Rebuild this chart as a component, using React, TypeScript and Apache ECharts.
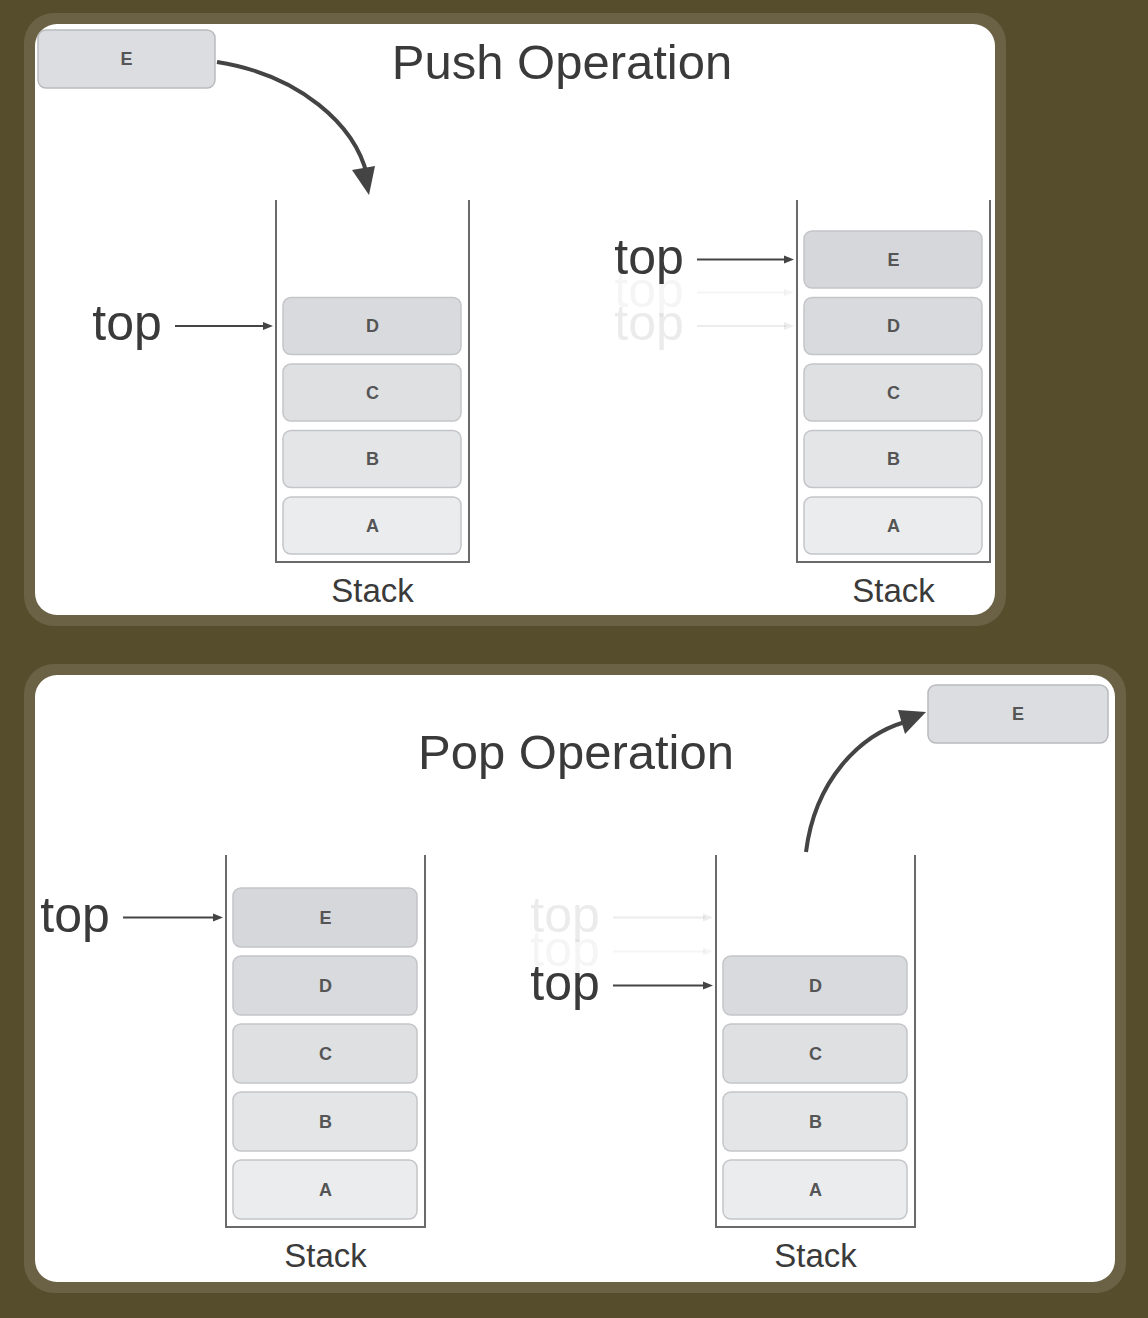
import React, { useEffect, useRef } from 'react';
import * as echarts from 'echarts';

const pushBefore = ['A', 'B', 'C', 'D'];
const pushAfter = ['A', 'B', 'C', 'D', 'E'];
const popBefore = ['A', 'B', 'C', 'D', 'E'];
const popAfter = ['A', 'B', 'C', 'D'];
const boxFills = ['#ebeced', '#e4e5e7', '#dfe0e2', '#d9dadd', '#d6d7da'];

const FONT = '"Liberation Sans", Arial, sans-serif';
const INK = '#3a3a3a';

const text = (x: number, y: number, t: string, size: number, color = INK, opacity = 1, weight = 'normal'): any => ({
  type: 'text',
  x,
  y,
  style: {
    text: t,
    fill: color,
    opacity,
    font: `${weight} ${size}px ${FONT}`,
    align: 'center',
    verticalAlign: 'middle',
  },
});

const arrow = (x1: number, x2: number, y: number, opacity = 1): any[] => [
  { type: 'line', shape: { x1, y1: y, x2: x2 - 8, y2: y }, style: { stroke: '#444', lineWidth: 2, opacity } },
  {
    type: 'polygon',
    shape: { points: [[x2 - 10, y - 4], [x2, y], [x2 - 10, y + 4]] },
    style: { fill: '#444', opacity },
  },
];

// walls, boxes, label and "top" pointer for one stack
const stack = (
  items: string[],
  left: number,
  right: number,
  top: number,
  bottom: number,
  boxH: number,
  pitch: number,
  topLabel: { x: number; ghosts: number[] },
): any[] => {
  const els: any[] = [];
  els.push({
    type: 'polyline',
    shape: { points: [[left, top], [left, bottom], [right, bottom], [right, top]] },
    style: { stroke: '#6a6a6a', lineWidth: 2, fill: null },
  });
  items.forEach((it, i) => {
    const y = bottom - 8 - boxH - i * pitch;
    els.push({
      type: 'rect',
      shape: { x: left + 7, y, width: right - left - 15, height: boxH, r: 8 },
      style: { fill: boxFills[i], stroke: '#c4c5c8', lineWidth: 1.5 },
    });
    els.push(text((left + right) / 2, y + boxH / 2, it, 18, '#555', 1, 'bold'));
  });
  els.push(text((left + right) / 2, bottom + 28, 'Stack', 33, INK));
  const yTop = bottom - 8 - boxH - (items.length - 1) * pitch + boxH / 2;
  topLabel.ghosts.forEach((dy, k) => {
    const op = k === 0 ? 0.1 : 0.05;
    els.push(text(topLabel.x, yTop + dy - 3, 'top', 50, INK, op));
    els.push(...arrow(topLabel.x + 48, left - 3, yTop + dy, op));
  });
  els.push(text(topLabel.x, yTop - 3, 'top', 50, INK));
  els.push(...arrow(topLabel.x + 48, left - 3, yTop));
  return els;
};

const panel = (x: number, y: number, w: number, h: number): any[] => [
  { type: 'rect', shape: { x: x - 11, y: y - 11, width: w + 22, height: h + 22, r: 30 }, style: { fill: '#6b6245' } },
  { type: 'rect', shape: { x, y, width: w, height: h, r: 22 }, style: { fill: '#ffffff' } },
];

const eBox = (x: number, y: number, w: number, h: number): any[] => [
  { type: 'rect', shape: { x, y, width: w, height: h, r: 8 }, style: { fill: '#dcdde0', stroke: '#b9babd', lineWidth: 1.5 } },
  text(x + w / 2, y + h / 2, 'E', 18, '#555', 1, 'bold'),
];

const App: React.FC = () => {
  const chartRef = useRef<HTMLDivElement | null>(null);

  useEffect(() => {
    if (!chartRef.current) return;
    const chart = echarts.init(chartRef.current, undefined, { renderer: 'svg' });

    const elements: any[] = [
      ...panel(35, 24, 960, 591),
      ...panel(35, 675, 1080, 607),
      // push
      text(562, 62, 'Push Operation', 49, INK),
      ...eBox(38, 30, 177, 58),
      {
        type: 'bezierCurve',
        shape: { x1: 217, y1: 62, cpx1: 300, cpy1: 75, cpx2: 355, cpy2: 125, x2: 367, y2: 175 },
        style: { stroke: '#444', lineWidth: 4, fill: null },
      },
      { type: 'polygon', shape: { points: [[352, 170], [375, 166], [369, 195]] }, style: { fill: '#444' } },
      ...stack(pushBefore, 276, 469, 200, 562, 57, 66.5, { x: 127, ghosts: [] }),
      ...stack(pushAfter, 797, 990, 200, 562, 57, 66.5, { x: 649, ghosts: [66.5, 33] }),
      // pop
      text(576, 752, 'Pop Operation', 49, INK),
      ...eBox(928, 685, 180, 58),
      {
        type: 'bezierCurve',
        shape: { x1: 806, y1: 852, cpx1: 815, cpy1: 780, cpx2: 860, cpy2: 735, x2: 905, y2: 722 },
        style: { stroke: '#444', lineWidth: 4, fill: null },
      },
      { type: 'polygon', shape: { points: [[898, 710], [926, 712], [905, 734]] }, style: { fill: '#444' } },
      ...stack(popBefore, 226, 425, 855, 1227, 59, 68, { x: 75, ghosts: [] }),
      ...stack(popAfter, 716, 915, 855, 1227, 59, 68, { x: 565, ghosts: [-68, -34] }),
    ];

    chart.setOption({
      animation: false,
      backgroundColor: '#564d2c',
      graphic: { elements },
    });

    return () => {
      chart.dispose();
    };
  }, []);

  return (
    <div
      ref={chartRef}
      style={{ position: 'absolute', left: 0, top: 0, width: '1148px', height: '1318px' }}
    />
  );
};

export default App;
